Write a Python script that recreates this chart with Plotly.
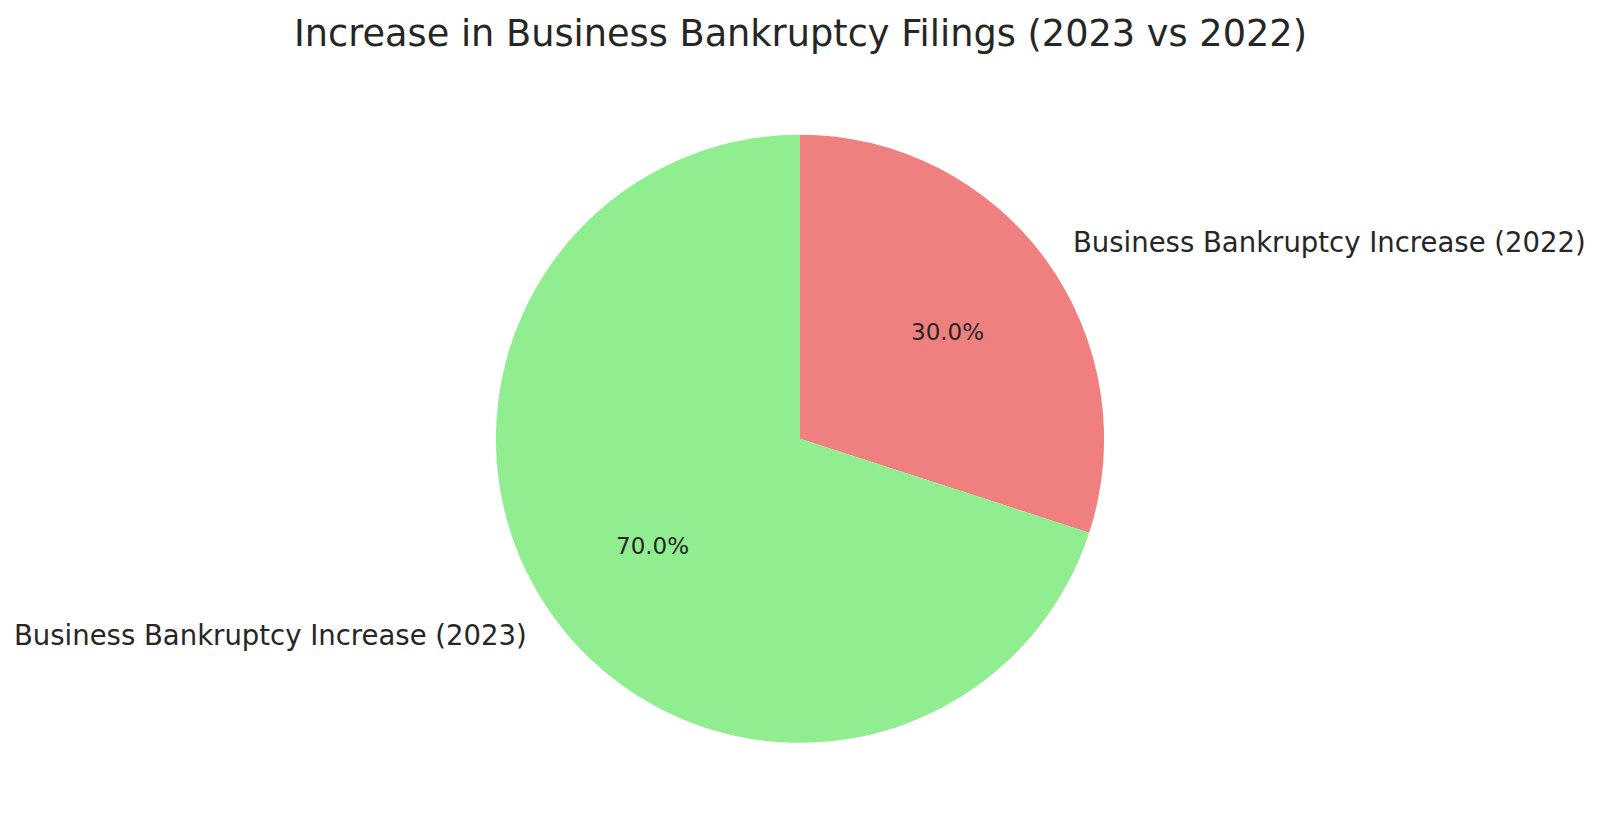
import numpy as np
import plotly.graph_objects as go

# data (listed in clockwise order starting from 12 o'clock)
labels = ["Business Bankruptcy Increase (2022)", "Business Bankruptcy Increase (2023)"]
values = [30, 70]
colors = ["lightcoral", "lightgreen"]
title = "Increase in Business Bankruptcy Filings (2023 vs 2022)"

# geometry: the photographed page comes out at ~0.98 of css px,
# and the figure sits inside the default 8px body margin
S = 0.98
PAD = 8
W, H = 1584, 800
CX, CY, R = 784, 430, 298  # wanted pie centre and radius in the picture (px)
TEXT_COLOR = "#262626"
FONT = "DejaVu Sans"


def to_paper(px, py):
    return (px / S - PAD) / W, 1 - (py / S - PAD) / H


def main():
    x0, y_top = to_paper(CX - R, CY - R)
    x1, y_bot = to_paper(CX + R, CY + R)

    fig = go.Figure(go.Pie(
        labels=labels, values=values,
        marker=dict(colors=colors, line=dict(width=0)),
        sort=False, direction="clockwise", rotation=0,
        textinfo="none", hoverinfo="label+percent",
        domain=dict(x=[x0, x1], y=[y_bot, y_top]),
        showlegend=False,
    ))

    # labels outside at 1.1 r, percentages inside at 0.6 r (like matplotlib)
    total = sum(values)
    start = 90.0
    annotations = []
    for lab, val in zip(labels, values):
        frac = val / total
        mid = np.deg2rad(start - 180 * frac)
        start -= 360 * frac
        c, s = np.cos(mid), np.sin(mid)
        lx, ly = to_paper(CX + 1.1 * R * c, CY - 1.1 * R * s)
        annotations.append(dict(
            x=lx, y=ly, xref="paper", yref="paper", text=lab, showarrow=False,
            xanchor="left" if c > 0 else "right", yanchor="middle",
            font=dict(family=FONT, size=27.5, color=TEXT_COLOR)))
        px_, py_ = to_paper(CX + 0.6 * R * c, CY - 0.6 * R * s)
        annotations.append(dict(
            x=px_, y=py_, xref="paper", yref="paper", text="%.1f%%" % (100 * frac),
            showarrow=False, xanchor="center", yanchor="middle",
            font=dict(family=FONT, size=23, color=TEXT_COLOR)))

    tx, ty = to_paper(CX, 33)
    annotations.append(dict(
        x=tx, y=ty, xref="paper", yref="paper", text=title, showarrow=False,
        xanchor="center", yanchor="middle",
        font=dict(family=FONT, size=36.7, color=TEXT_COLOR)))

    fig.update_layout(
        width=W, height=H,
        margin=dict(l=0, r=0, t=0, b=0),
        paper_bgcolor="white", plot_bgcolor="white",
        annotations=annotations,
    )
    fig.write_html("out.html")


if __name__ == "__main__":
    main()
